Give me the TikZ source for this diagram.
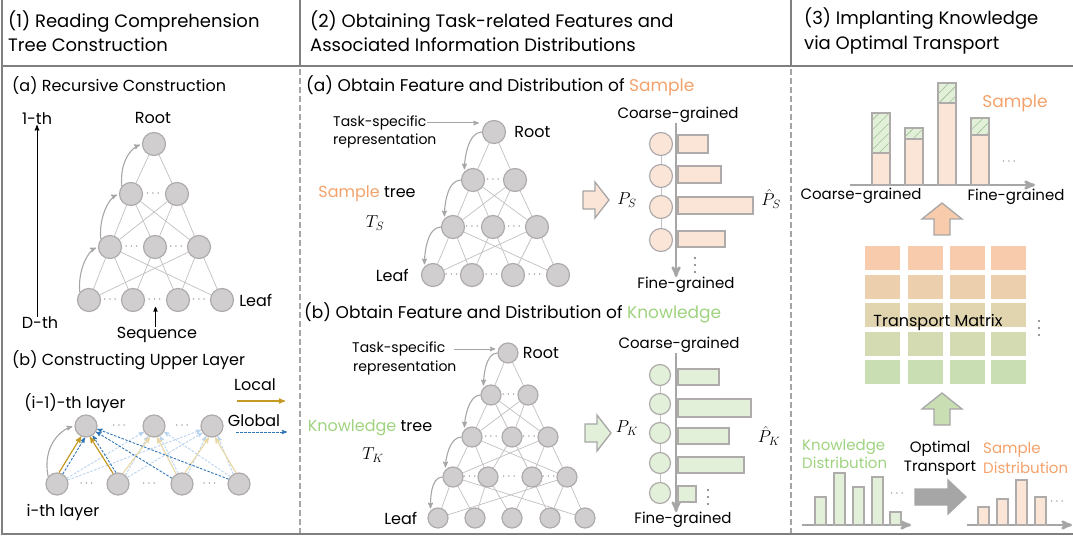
\documentclass[tikz,border=0pt]{standalone}
\usepackage{amsmath,amssymb}
\usepackage{fontspec}
\setmainfont{Poppins}
\usepackage{tikz}
\usetikzlibrary{arrows,positioning,backgrounds,calc,patterns.meta}

\definecolor{framegray}{HTML}{7F7F7F}
\definecolor{nodefill}{HTML}{D0CECE}
\definecolor{nodeline}{HTML}{AFABAB}
\definecolor{edgegray}{HTML}{C0C0C0}
\definecolor{arrowgray}{HTML}{A6A6A6}
\definecolor{barline}{HTML}{AFABAB}
\definecolor{peach}{HTML}{FBE5D6}
\definecolor{mint}{HTML}{E2F0D9}
\definecolor{samplecol}{HTML}{F4A26B}
\definecolor{knowcol}{HTML}{9FD37F}
\definecolor{hatchgreen}{HTML}{9DBF91}
\definecolor{localcol}{HTML}{C59A23}
\definecolor{globalcol}{HTML}{2F75B5}
\definecolor{lightlocal}{HTML}{EAD9A8}
\definecolor{lightglobal}{HTML}{B8D3EE}
\definecolor{matorange}{HTML}{F7CBAC}
\definecolor{matgreen}{HTML}{C9DFB3}

\begin{document}
\begin{tikzpicture}[x=1pt, y=-1pt,
    font=\fontsize{16}{19}\selectfont,
    >=stealth',
    headtxt/.style={anchor=west, align=left, inner sep=0pt, font=\fontsize{18}{24.5}\selectfont},
    subtxt/.style={anchor=west, inner sep=0pt, font=\fontsize{17}{19}\selectfont},
    lbl/.style={inner sep=0pt},
    axtxt/.style={inner sep=0pt, font=\fontsize{15}{19}\selectfont},
    mathlbl/.style={inner sep=0pt, font=\fontsize{18}{18}\selectfont},
    smalltxt/.style={anchor=west, align=left, inner sep=0pt, font=\fontsize{14}{18}\selectfont},
    tnode/.style={circle, draw=nodeline, fill=nodefill, line width=1.2pt, minimum size=23pt, inner sep=0pt},
    knode/.style={tnode, minimum size=20pt},
    unode/.style={tnode, minimum size=22pt},
    pnode/.style={circle, draw=barline, fill=peach, line width=1.2pt, minimum size=23pt, inner sep=0pt},
    gnode/.style={pnode, fill=mint, minimum size=21pt},
    edge/.style={draw=edgegray, line width=0.7pt},
    hop/.style={->, draw=arrowgray, line width=1.1pt, shorten >=2pt},
    hdots/.style={inner sep=0pt, text=black!55, font=\fontsize{12}{12}\selectfont},
    dotcol/.style={fill=black!55},
    axisline/.style={->, draw=arrowgray, line width=2.5pt},
    bar/.style={draw=barline, line width=1.4pt},
    fat/.style={draw=arrowgray, line width=1.3pt},
    localarr/.style={->, draw=localcol, line width=1.2pt},
    globalarr/.style={->, draw=globalcol, line width=0.9pt, dash pattern=on 2.5pt off 1.5pt},
    lightlocalarr/.style={localarr, draw=lightlocal},
    lightglobalarr/.style={globalarr, draw=lightglobal}
]
\useasboundingbox (0,0) rectangle (1073,537);

% frame and column rules
\draw[framegray, line width=1.5pt] (2,0) -- (2,534) -- (1073,534);
\draw[framegray, line width=2.5pt] (2,66) -- (1073,66);
\draw[framegray, line width=1.2pt] (300,0) -- (300,66) (791,0) -- (791,66);
\draw[framegray!70, line width=1.2pt, dash pattern=on 6pt off 3pt] (300,69) -- (300,533) (791,69) -- (791,533);

\node[headtxt] (head1) at (8,31) {(1) Reading Comprehension\\Tree Construction};
\node[headtxt] (head2) at (310,31) {(2) Obtaining Task-related Features and\\Associated Information Distributions};
\node[headtxt] (head3) at (804,31) {(3) Implanting Knowledge\\via Optimal Transport};

% ---- (1a) recursive construction ----
\node[subtxt, font=\fontsize{16}{19}\selectfont] (suba1) at (12,86) {(a) Recursive Construction};
\node[lbl] (first) at (37,119) {1-th};
\node[lbl] (last) at (40,323) {D-th};
\draw[->, line width=1pt] (first.south |- last.north) -- (first.south);

\node[tnode] (r1) at (154,144) {};
\node[tnode] (a1) at (131,194) {};
\node[tnode] (a2) at (177,194) {};
\node[tnode] (b1) at (110,247) {};
\node[tnode] (b2) at (155,247) {};
\node[tnode] (b3) at (199,247) {};
\node[tnode] (c1) at (89,300) {};
\node[tnode] (c2) at (133,300) {};
\node[tnode] (c3) at (178,300) {};
\node[tnode] (c4) at (222,300) {};
\begin{scope}[on background layer]
\foreach \p/\q in {r1/a1,r1/a2,a1/b1,a1/b2,a1/b3,a2/b1,a2/b2,a2/b3,
    b1/c1,b1/c2,b1/c4,b2/c2,b2/c3,b3/c3,b3/c4,b3/c1}
  \draw[edge] (\p) -- (\q);
\end{scope}
\node[hdots] (da1) at ($(a1)!0.5!(a2)$) {$\cdots$};
\node[hdots] (db1) at ($(b1)!0.5!(b2)$) {$\cdots$};
\node[hdots] (db2) at ($(b2)!0.5!(b3)$) {$\cdots$};
\node[hdots] (dc1) at ($(c1)!0.5!(c2)$) {$\cdots$};
\node[hdots] (dc2) at ($(c2)!0.5!(c3)$) {$\cdots$};
\node[hdots] (dc3) at ($(c3)!0.5!(c4)$) {$\cdots$};
\node[lbl] (root1) at (153,118) {Root};
\node[lbl, right=5pt of c4] (leaf1) {Leaf};
\node[lbl] (seq) at (157,335) {Sequence};
\draw[->, line width=0.8pt, shorten >=4pt] (seq.north -| dc2) -- (dc2.south);

\draw[hop] (c1.140) .. controls +(-2,-24) and +(-9,4) .. (b1.west);
\draw[hop] (b1.140) .. controls +(-2,-24) and +(-9,4) .. (a1.west);
\draw[hop] (a1.140) .. controls +(-2,-26) and +(-10,4) .. (r1.west);

% ---- (1b) constructing upper layer ----
\node[subtxt, font=\fontsize{16}{19}\selectfont] (subb1) at (12,360) {(b) Constructing Upper Layer};
\node[lbl] (uplbl) at (75,403) {(i-1)-th layer};
\node[lbl] (lowlbl) at (63,512) {i-th layer};
\node[unode] (u1) at (86,426) {};
\node[unode] (u2) at (154,426) {};
\node[unode] (u3) at (212,426) {};
\node[unode] (l1) at (57,484) {};
\node[unode] (l2) at (118,484) {};
\node[unode] (l3) at (182,484) {};
\node[unode] (l4) at (239,484) {};
\node[hdots] (du1) at ($(u1)!0.5!(u2)$) {$\cdots$};
\node[hdots] (du2) at ($(u2)!0.5!(u3)$) {$\cdots$};
\node[hdots] (dl1) at ($(l1)!0.5!(l2)$) {$\cdots$};
\node[hdots] (dl2) at ($(l2)!0.5!(l3)$) {$\cdots$};
\node[hdots] (dl3) at ($(l3)!0.5!(l4)$) {$\cdots$};

\node[lbl] (loclbl) at (255,385) {Local};
\coordinate (locA) at (237,401);
\coordinate (locB) at (285,401);
\draw[localarr] (locA) -- (locB);
\node[lbl] (glolbl) at (254,421) {Global};
\coordinate (gloA) at (236,432);
\coordinate (gloB) at (287,432);
\draw[globalarr] (gloA) -- (gloB);

\draw[lightglobalarr] (l1.30) -- (u2.210);
\draw[lightglobalarr] (l1.20) -- (u3.200);
\draw[lightglobalarr] (l2.50) -- (u2.240);
\draw[lightglobalarr] (l2.35) -- (u3.215);
\draw[lightglobalarr] (l3.110) -- (u2.300);
\draw[lightglobalarr] (l3.60) -- (u3.240);
\draw[lightglobalarr] (l4.120) -- (u3.300);
\draw[lightglobalarr] (l4.140) -- (u2.330);
\draw[lightlocalarr] (l2.65) -- (u2.250);
\draw[lightlocalarr] (l3.120) -- (u2.285);
\draw[lightlocalarr] (l3.75) -- (u3.255);
\draw[lightlocalarr] (l4.105) -- (u3.285);
\draw[globalarr] (l1.60) -- (u1.265);
\draw[globalarr] (l2.100) -- (u1.305);
\draw[globalarr] (l3.150) -- (u1.330);
\draw[globalarr] (l4.155) -- (u1.345);
\draw[localarr] (l1.80) -- (u1.245);
\draw[localarr] (l2.115) -- (u1.290);
\draw[hop] (l1.140) .. controls +(-6,-30) and +(-14,4) .. (u1.west);

% ---- (2a) sample ----
\node[subtxt] (suba2) at (306,86) {(a) Obtain Feature and Distribution of \textcolor{samplecol}{Sample}};
\node[smalltxt] (tsk1) at (333,123) {Task-specific};
\node[smalltxt] (rep1) at (333,141) {representation};

\node[tnode] (s0) at (494,132) {};
\node[tnode] (sa1) at (473,180) {};
\node[tnode] (sa2) at (515,180) {};
\node[tnode] (sb1) at (453,227) {};
\node[tnode] (sb2) at (493,227) {};
\node[tnode] (sb3) at (537,227) {};
\node[tnode] (sc1) at (433,275) {};
\node[tnode] (sc2) at (472,275) {};
\node[tnode] (sc3) at (513,275) {};
\node[tnode] (sc4) at (558,275) {};
\begin{scope}[on background layer]
\foreach \p/\q in {s0/sa1,s0/sa2,sa1/sb1,sa1/sb2,sa1/sb3,sa2/sb1,sa2/sb2,sa2/sb3,
    sb1/sc1,sb1/sc2,sb1/sc4,sb2/sc2,sb2/sc3,sb3/sc3,sb3/sc4,sb3/sc1}
  \draw[edge] (\p) -- (\q);
\end{scope}
\node[hdots] (dsa) at ($(sa1)!0.5!(sa2)$) {$\cdots$};
\node[hdots] (dsb1) at ($(sb1)!0.5!(sb2)$) {$\cdots$};
\node[hdots] (dsb2) at ($(sb2)!0.5!(sb3)$) {$\cdots$};
\node[hdots] (dsc1) at ($(sc1)!0.5!(sc2)$) {$\cdots$};
\node[hdots] (dsc2) at ($(sc2)!0.5!(sc3)$) {$\cdots$};
\node[hdots] (dsc3) at ($(sc3)!0.5!(sc4)$) {$\cdots$};
\node[lbl, right=8pt of s0] (root2) {Root};
\node[lbl, left=12pt of sc1] (leaf2) {Leaf};
\node[lbl] (stree) at (367,194) {\textcolor{samplecol}{Sample} tree};
\node[mathlbl] (tsname) at (375,223) {$T_S$};
\draw[->, draw=arrowgray, line width=1pt, shorten >=3pt] (tsk1.east) -- (tsk1.east -| s0.west);
\draw[hop] (s0.west) .. controls +(-14,0) and +(0,-12) .. (sa1.north west);
\draw[hop] (sa1.west) .. controls +(-14,0) and +(0,-12) .. (sb1.north west);
\draw[hop] (sb1.west) .. controls +(-14,0) and +(0,-12) .. (sc1.north west);

\draw[fat, fill=peach, shift={(583,200)}] (0,-9) -- (12,-9) -- (12,-18) -- (26,0) -- (12,18) -- (12,9) -- (0,9) -- cycle;
\node[mathlbl] (ps) at (627,200) {$P_S$};
\node[pnode] (p1) at (661,144) {};
\node[pnode] (p2) at (661,176) {};
\node[pnode] (p3) at (661,207) {};
\node[pnode] (p4) at (661,240) {};
\begin{scope}[on background layer]
\draw[edge] (p1) -- (p2) -- (p3) -- (p4);
\end{scope}
\node[axtxt] (coarse1) at (678,115) {Coarse-grained};
\node[axtxt] (fine1) at (686,285) {Fine-grained};
\draw[axisline] (coarse1.south -| p1.east) ++(3,0) coordinate (ax1) -- (ax1 |- fine1.north);
\foreach \ya/\yb/\xr in {135/153/708, 166/183/721, 197/214/753, 231/247/725}
  \draw[bar, fill=peach] (678,\ya) rectangle (\xr,\yb);
\foreach \k in {0,1,2}
  \fill[dotcol] (695,258+\k*7) circle (1.1pt);
\node[mathlbl] (phs) at (771,199) {$\hat{P}_S$};

% ---- (2b) knowledge ----
\node[subtxt] (subb2) at (304,313) {(b) Obtain Feature and Distribution of \textcolor{knowcol}{Knowledge}};
\node[smalltxt] (tsk2) at (352,349) {Task-specific};
\node[smalltxt] (rep2) at (353,368) {representation};

\node[knode] (k0) at (508,353) {};
\node[knode] (ka1) at (491,395) {};
\node[knode] (ka2) at (528,395) {};
\node[knode] (kb1) at (472,437) {};
\node[knode] (kb2) at (512,437) {};
\node[knode] (kb3) at (548,437) {};
\node[knode] (kc1) at (453,477) {};
\node[knode] (kc2) at (488,477) {};
\node[knode] (kc3) at (532,477) {};
\node[knode] (kc4) at (567,477) {};
\node[knode] (kd1) at (438,518) {};
\node[knode] (kd2) at (475,518) {};
\node[knode] (kd3) at (512,518) {};
\node[knode] (kd4) at (550,518) {};
\node[knode] (kd5) at (585,518) {};
\begin{scope}[on background layer]
\foreach \p/\q in {k0/ka1,k0/ka2,ka1/kb1,ka1/kb2,ka1/kb3,ka2/kb1,ka2/kb2,ka2/kb3,
    kb1/kc1,kb1/kc2,kb1/kc4,kb2/kc2,kb2/kc3,kb3/kc3,kb3/kc4,kb3/kc1,
    kc1/kd1,kc1/kd2,kc1/kd5,kc2/kd2,kc2/kd3,kc3/kd3,kc3/kd4,kc4/kd4,kc4/kd5,kc4/kd1}
  \draw[edge] (\p) -- (\q);
\end{scope}
\node[hdots] (dka) at ($(ka1)!0.5!(ka2)$) {$\cdots$};
\node[hdots] (dkb1) at ($(kb1)!0.5!(kb2)$) {$\cdots$};
\node[hdots] (dkb2) at ($(kb2)!0.5!(kb3)$) {$\cdots$};
\node[hdots] (dkc1) at ($(kc1)!0.5!(kc2)$) {$\cdots$};
\node[hdots] (dkc2) at ($(kc2)!0.5!(kc3)$) {$\cdots$};
\node[hdots] (dkc3) at ($(kc3)!0.5!(kc4)$) {$\cdots$};
\node[lbl, right=4pt of k0] (root3) {Root};
\node[lbl, left=10pt of kd1] (leaf3) {Leaf};
\node[lbl] (ktree) at (370,428) {\textcolor{knowcol}{Knowledge} tree};
\node[mathlbl] (tkname) at (373,455) {$T_K$};
\draw[->, draw=arrowgray, line width=1pt, shorten >=2pt, shorten <=8pt] (tsk2.east) -- (tsk2.east -| k0.west);
\draw[hop] (k0.west) .. controls +(-12,0) and +(0,-10) .. (ka1.north west);
\draw[hop] (ka1.west) .. controls +(-12,0) and +(0,-10) .. (kb1.north west);
\draw[hop] (kb1.west) .. controls +(-12,0) and +(0,-10) .. (kc1.north west);
\draw[hop] (kc1.west) .. controls +(-12,0) and +(0,-10) .. (kd1.north west);

\draw[fat, fill=mint, shift={(585,433)}] (0,-9) -- (12,-9) -- (12,-18) -- (26,0) -- (12,18) -- (12,9) -- (0,9) -- cycle;
\node[mathlbl] (pk) at (627,428) {$P_K$};
\node[gnode] (q1) at (660,375) {};
\node[gnode] (q2) at (660,404) {};
\node[gnode] (q3) at (660,433) {};
\node[gnode] (q4) at (660,463) {};
\node[gnode] (q5) at (660,493) {};
\begin{scope}[on background layer]
\draw[edge] (q1) -- (q2) -- (q3) -- (q4) -- (q5);
\end{scope}
\node[axtxt] (coarse2) at (679,345) {Coarse-grained};
\node[axtxt] (fine2) at (683,520) {Fine-grained};
\draw[axisline] (coarse2.south -| q1.east) ++(5,0) coordinate (ax2) -- (ax2 |- fine2.north);
\foreach \ya/\yb/\xr in {369/385/719, 399/417/751, 428/444/729, 457/473/744, 486/502/696}
  \draw[bar, fill=mint] (678,\ya) rectangle (\xr,\yb);
\foreach \k in {0,1,2}
  \fill[dotcol] (708,490+\k*7) circle (1.1pt);
\node[mathlbl] (phk) at (769,436) {$\hat{P}_K$};

% ---- (3) optimal transport ----
\coordinate (topaxL) at (850,185);
\coordinate (topaxR) at (1035,185);
\draw[axisline] (topaxL) -- (topaxR);
\foreach \xl/\yt/\ys in {872/113/153, 905/128/139, 938/83/103, 971/118/135} {
  \fill[peach] (\xl,\ys) rectangle (\xl+18,185);
  \fill[mint] (\xl,\yt) rectangle (\xl+18,\ys);
  \fill[pattern={Lines[angle=45,distance=7pt,line width=0.6pt]}, pattern color=hatchgreen] (\xl,\yt) rectangle (\xl+18,\ys);
  \draw[bar] (\xl,\yt) rectangle (\xl+18,185);
  \draw[bar] (\xl,\ys) -- (\xl+18,\ys);
}
\node[lbl, text=samplecol, font=\fontsize{17}{19}\selectfont] (samp3) at (1015,103) {Sample};
\node[hdots] (dtop) at (1010,162) {$\cdots$};
\node[axtxt] (coarse3) at (861,196) {Coarse-grained};
\node[axtxt] (fine3) at (1016,197) {Fine-grained};

\draw[fat, fill=matorange, shift={(942,203)}] (0,0) -- (20,16) -- (8,16) -- (8,32) -- (-8,32) -- (-8,16) -- (-20,16) -- cycle;

\foreach \y/\p in {246/100, 275/75, 303/50, 332/25, 360/0}
  \foreach \x in {865,908,950,991}
    \fill[matorange!\p!matgreen] (\x,\y) rectangle (\x+35,\y+24);
\node[lbl] (tmat) at (938,322) {Transport Matrix};
\foreach \k in {0,1,2}
  \fill[dotcol] (1039,321+\k*7) circle (1.1pt);

\draw[fat, fill=matgreen, shift={(942,393)}] (0,0) -- (20,16) -- (8,16) -- (8,32) -- (-8,32) -- (-8,16) -- (-20,16) -- cycle;

\node[smalltxt, font=\fontsize{15}{18}\selectfont, text=knowcol] (kdist) at (802,454) {Knowledge\\Distribution};
\node[axtxt, align=center] (otlbl) at (940,458) {Optimal\\Transport};
\node[smalltxt, font=\fontsize{15}{20}\selectfont, text=samplecol] (sdist) at (983,458) {Sample\\Distribution};

\coordinate (kaxL) at (802,525);
\coordinate (kaxR) at (911,525);
\draw[axisline] (kaxL) -- (kaxR);
\foreach \xl/\yt in {815/497, 834/473, 853/487, 872/477, 890/512}
  \draw[bar, fill=mint] (\xl,\yt) rectangle (\xl+11,525);
\node[hdots] (dkb) at (898,494) {$\cdots$};

\draw[fat, fill=arrowgray] (915,489) -- (948,489) -- (948,480) -- (966,497) -- (948,514) -- (948,505) -- (915,505) -- cycle;

\coordinate (saxL) at (967,525);
\coordinate (saxR) at (1072,525);
\draw[axisline] (saxL) -- (saxR);
\foreach \xl/\yt in {978/507, 997/499, 1016/480, 1035/497}
  \draw[bar, fill=peach] (\xl,\yt) rectangle (\xl+11,525);
\node[hdots] (dsb) at (1058,502) {$\cdots$};

\end{tikzpicture}
\end{document}
